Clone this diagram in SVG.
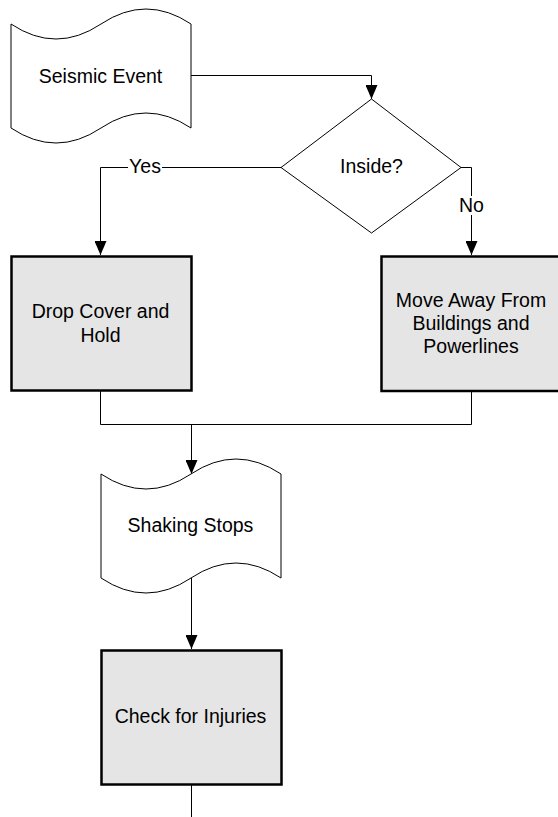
<svg xmlns="http://www.w3.org/2000/svg" width="558" height="817" viewBox="0 0 558 817">
  <style>
    .lbl { font-family: "Liberation Sans", Arial, sans-serif; font-size: 19.5px; fill: #000; text-anchor: middle; }
    .proc { fill: #e5e5e5; stroke: #000; stroke-width: 2.5; }
    .tape { fill: #fff; stroke: #000; stroke-width: 1; }
    .dec { fill: #fff; stroke: #000; stroke-width: 1; }
    .conn { fill: none; stroke: #000; stroke-width: 1; }
    .bg { fill: #fff; }
  </style>
  <defs>
    <marker id="arrow" viewBox="0 0 14 12" refX="14" refY="6" markerWidth="14" markerHeight="12" markerUnits="userSpaceOnUse" orient="auto">
      <path d="M0,0 L14,6 L0,12 Z" fill="#000"/>
    </marker>
  </defs>
  <rect width="558" height="817" fill="#fff"/>

  <g id="connectors">
    <path class="conn" d="M191,75.5 H371.5 V99" marker-end="url(#arrow)"/>
    <path class="conn" d="M281,167.5 H100.5 V255" marker-end="url(#arrow)"/>
    <path class="conn" d="M461,167.5 H471.5 V255" marker-end="url(#arrow)"/>
    <path class="conn" d="M100.5,390 V424.5 H471.5 V391"/>
    <path class="conn" d="M191.5,424.5 V474" marker-end="url(#arrow)"/>
    <path class="conn" d="M191.5,578 V649" marker-end="url(#arrow)"/>
    <path class="conn" d="M191.5,784 V817"/>
    <rect class="bg" x="128" y="158" width="34" height="18"/>
    <text class="lbl" x="145" y="172.5">Yes</text>
    <rect class="bg" x="459" y="196" width="25" height="19"/>
    <text class="lbl" x="471.5" y="211.5">No</text>
  </g>

  <g id="seismic-event">
    <path class="tape" d="M11,24 Q56,54 101,24 T191,24 L191,128 Q146,98 101,128 T11,128 Z"/>
    <text class="lbl" x="100.5" y="83">Seismic Event</text>
  </g>

  <g id="inside">
    <path class="dec" d="M371.5,99 L461,167.5 L371.5,233 L281,167.5 Z"/>
    <text class="lbl" x="371.5" y="172.5">Inside?</text>
  </g>

  <g id="drop-cover">
    <rect class="proc" x="11.5" y="256.5" width="180" height="134"/>
    <text class="lbl" x="100.5" y="318">Drop Cover and</text>
    <text class="lbl" x="100.5" y="342">Hold</text>
  </g>

  <g id="move-away">
    <rect class="proc" x="381.5" y="256.5" width="180" height="134.5"/>
    <text class="lbl" x="471" y="307">Move Away From</text>
    <text class="lbl" x="471" y="330">Buildings and</text>
    <text class="lbl" x="471" y="353">Powerlines</text>
  </g>

  <g id="shaking-stops">
    <path class="tape" d="M101,474 Q146,504 191,474 T281,474 L281,578 Q236,548 191,578 T101,578 Z"/>
    <text class="lbl" x="190.5" y="531.5">Shaking Stops</text>
  </g>

  <g id="check-injuries">
    <rect class="proc" x="101.5" y="650.5" width="180" height="134"/>
    <text class="lbl" x="190.5" y="722.5">Check for Injuries</text>
  </g>
</svg>
